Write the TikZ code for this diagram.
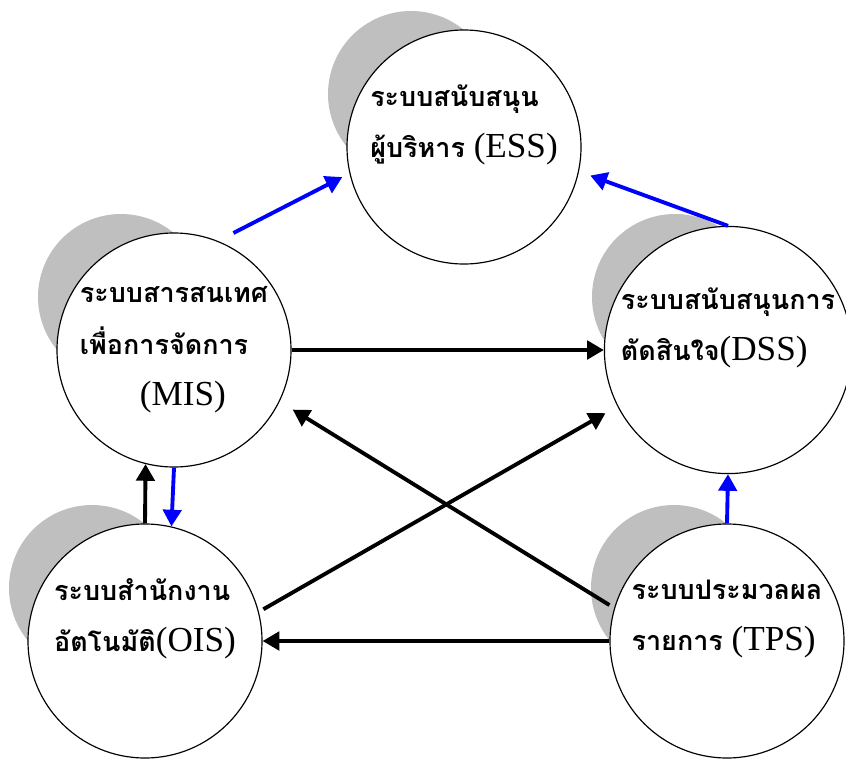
\documentclass[tikz,border=0pt]{standalone}
\usepackage{fontspec}
\setmainfont{Liberation Serif}
\newfontfamily\thaifont[Script=Thai]{Loma}
\usepackage{tikz}
\usetikzlibrary{arrows.meta,backgrounds,calc}
\newcommand{\thai}[1]{{\thaifont\bfseries\fontsize{23}{44}\selectfont #1}}

\begin{document}
\begin{tikzpicture}
\tikzstyle{sys}=[circle, draw=black, line width=1pt, fill=white, minimum size=7.02cm, inner sep=0pt, align=left, node distance=6.09cm, font=\fontsize{30}{44}\selectfont]
\tikzstyle{shade}=[fill=black!25]
\tikzstyle{connect}=[-{Triangle[length=0.5cm, width=0.55cm]}, line width=3.3pt]
\tikzstyle{feed}=[connect, blue]

  \useasboundingbox (0,0) rectangle (25.38,-22.92);

  \node[sys] (ess) at (13.92,-4.41)                                 {\thai{ระบบสนับสนุน}\\\thai{ผู้บริหาร} (ESS)\\~};
  \node[sys] (mis) [below of =ess, xshift=-8.7cm]                  {\thai{ระบบสารสนเทศ}\\\thai{เพื่อการจัดการ}\\\hspace*{1.8cm}(MIS)};
  \node[sys] (dss) [below of =ess, xshift=7.92cm]                  {\thai{ระบบสนับสนุนการ}\\\thai{ตัดสินใจ}(DSS)\\~};
  \node[sys] (ois) [below of =mis, xshift=-0.87cm, yshift=-2.64cm] {\thai{ระบบสำนักงาน}\\\thai{อัตโนมัติ}(OIS)\\~};
  \node[sys] (tps) [below of =dss, xshift=-0.03cm, yshift=-2.64cm] {\thai{ระบบประมวลผล}\\\thai{รายการ} (TPS)\\~};

  % grey crescents behind the circles
  \begin{scope}[on background layer]
    \foreach \sys in {ess,mis,dss,ois,tps}
      \fill[shade] ([shift={(-1.59,1.59)}]\sys.center) circle (2.49cm);
  \end{scope}

  % blue arrows up to ESS and DSS
  \draw[feed, shorten >=0.24cm] ([shift={(63.6:0.41cm)}]mis.63.6) -- (ess.193.5);
  \draw[feed, shorten >=0.36cm] (dss.north) -- (ess.-12);
  \draw[feed] (tps.north) -- (dss.south);
  \draw[feed] (mis.south) -- (ois.77);

  % black arrows
  \draw[connect] (mis.east) -- (dss.west);
  \draw[connect] (tps.west) -- (ois.east);
  \draw[connect] (ois.north) -- (mis.-104);
  \draw[connect, shorten >=0.46cm] ([shift={(163:0.16cm)}]tps.163) -- (mis.-26.3);
  \draw[connect, shorten >=0.41cm] ([shift={(15.6:0.15cm)}]ois.15.6) -- (dss.207);

\end{tikzpicture}
\end{document}
